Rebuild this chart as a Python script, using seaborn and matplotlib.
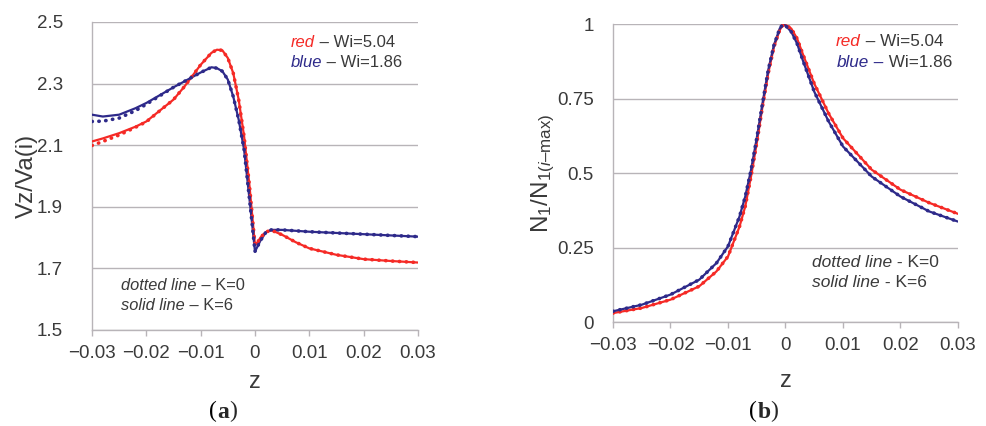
import matplotlib
matplotlib.use("Agg")
import matplotlib.pyplot as plt
import numpy as np
import pandas as pd
import seaborn as sns

# ---- panel (a): Vz/Va(i) vs z ----
z_a = [-0.03, -0.028, -0.025, -0.022, -0.02, -0.015, -0.013, -0.01, -0.008, -0.007,
       -0.006, -0.005, -0.004, -0.003, -0.002, -0.001, -0.0005, 0.0, 0.0005, 0.001,
       0.002, 0.003, 0.005, 0.0075, 0.01, 0.015, 0.02, 0.025, 0.03]
red_k6_a = [2.112, 2.122, 2.139, 2.160, 2.177, 2.248, 2.290, 2.361, 2.400, 2.410,
            2.408, 2.383, 2.334, 2.248, 2.128, 1.966, 1.870, 1.776, 1.785, 1.800,
            1.818, 1.824, 1.809, 1.785, 1.765, 1.744, 1.730, 1.724, 1.719]
red_k0_a = [2.099, 2.112, 2.133, 2.158, 2.176, 2.248, 2.290, 2.361, 2.400, 2.410,
            2.408, 2.383, 2.334, 2.248, 2.128, 1.966, 1.870, 1.776, 1.785, 1.800,
            1.818, 1.824, 1.809, 1.785, 1.765, 1.744, 1.730, 1.724, 1.719]
blue_k6_a = [2.199, 2.193, 2.199, 2.220, 2.237, 2.288, 2.307, 2.336, 2.353, 2.350,
             2.340, 2.313, 2.258, 2.183, 2.085, 1.923, 1.840, 1.755, 1.772, 1.790,
             1.817, 1.825, 1.825, 1.822, 1.819, 1.815, 1.811, 1.807, 1.803]
blue_k0_a = [2.177, 2.178, 2.188, 2.212, 2.233, 2.288, 2.307, 2.336, 2.353, 2.350,
             2.340, 2.313, 2.258, 2.183, 2.085, 1.923, 1.840, 1.755, 1.772, 1.790,
             1.817, 1.825, 1.825, 1.822, 1.819, 1.815, 1.811, 1.807, 1.803]

# ---- panel (b): N1/N1(i-max) vs z ----
z_b = [-0.03, -0.025, -0.02, -0.015, -0.012, -0.01, -0.008, -0.007, -0.006, -0.005,
       -0.004, -0.003, -0.002, -0.001, -0.0005, 0.0, 0.001, 0.002, 0.003, 0.005,
       0.0075, 0.01, 0.015, 0.02, 0.025, 0.03]
red_b = [0.030, 0.047, 0.075, 0.120, 0.170, 0.220, 0.320, 0.388, 0.488, 0.600,
         0.723, 0.835, 0.924, 0.980, 0.995, 0.997, 0.985, 0.952, 0.900, 0.800,
         0.700, 0.617, 0.511, 0.444, 0.400, 0.363]
blue_b = [0.036, 0.058, 0.092, 0.142, 0.198, 0.254, 0.354, 0.421, 0.510, 0.617,
          0.734, 0.846, 0.930, 0.985, 0.998, 0.995, 0.974, 0.935, 0.879, 0.773,
          0.673, 0.589, 0.488, 0.421, 0.371, 0.337]

xticks = [-0.03, -0.02, -0.01, 0, 0.01, 0.02, 0.03]
xtick_labels = ["\u22120.03", "\u22120.02", "\u22120.01", "0", "0.01", "0.02", "0.03"]
yticks_a = [1.5, 1.7, 1.9, 2.1, 2.3, 2.5]
yticks_b = [0, 0.25, 0.5, 0.75, 1]
ytick_labels_b = ["0", "0.25", "0.5", "0.75", "1"]

RED = "#f52a26"
BLUE = "#2e2a8a"
GRID = "#b8b4b8"
TXT = "#3a3a3a"

sns.set_theme(style="white")
plt.rcParams["font.family"] = ["Liberation Sans", "DejaVu Sans"]
plt.rcParams["mathtext.fontset"] = "custom"
plt.rcParams["mathtext.rm"] = "Liberation Sans"
plt.rcParams["mathtext.it"] = "Liberation Sans:italic"

fig = plt.figure(figsize=(9.86, 4.26), dpi=100)
ax_a = fig.add_axes([0.0933, 0.2254, 0.3306, 0.7230])
ax_b = fig.add_axes([0.6217, 0.2441, 0.3499, 0.6995])


def draw_curves(ax, z, series):
    for vals, color, dotted in series:
        df = pd.DataFrame({"z": z, "v": vals})
        if dotted:
            sns.lineplot(ax=ax, data=df, x="z", y="v", color=color, linewidth=2.6,
                         linestyle=(0, (0.1, 1.8)), dash_capstyle="round", zorder=4)
        else:
            sns.lineplot(ax=ax, data=df, x="z", y="v", color=color, linewidth=1.6, zorder=3)


def style_axes(ax, yticks, ylabels, ylim, pad_y, xlabelpad):
    ax.set_xlim(-0.03, 0.03)
    ax.set_ylim(*ylim)
    ax.set_xticks(xticks)
    ax.set_xticklabels(xtick_labels)
    ax.set_yticks(yticks)
    ax.set_yticklabels(ylabels)
    ax.yaxis.grid(True, color=GRID, linewidth=1.0)
    ax.set_axisbelow(True)
    for s in ["top", "right"]:
        ax.spines[s].set_visible(False)
    for s in ["left", "bottom"]:
        ax.spines[s].set_color(GRID)
        ax.spines[s].set_linewidth(1.0)
    ax.tick_params(axis="x", bottom=True, length=4, width=1.0, color=GRID,
                   labelsize=13.5, labelcolor=TXT, pad=7)
    ax.tick_params(axis="y", left=False, labelsize=13.5, labelcolor=TXT, pad=pad_y)
    ax.set_xlabel("z", fontsize=17, color=TXT, labelpad=xlabelpad)


def legend_text(ax, x, y, word, rest, word_color, rest_color, size, dash_color=None):
    t = ax.text(x, y, word, transform=ax.transAxes, fontsize=size, style="italic",
                color=word_color, va="center", ha="left")
    if dash_color is not None:
        t = ax.annotate(" \u2013", xy=(1, 0), xycoords=t, fontsize=size,
                        color=dash_color, va="bottom", ha="left")
    ax.annotate(rest, xy=(1, 0), xycoords=t, fontsize=size, color=rest_color,
                va="bottom", ha="left")


# panel (a)
draw_curves(ax_a, z_a, [(red_k6_a, RED, False), (blue_k6_a, BLUE, False),
                        (red_k0_a, RED, True), (blue_k0_a, BLUE, True)])
style_axes(ax_a, yticks_a, [f"{v:.1f}" for v in yticks_a], (1.5, 2.5), 15, 6)
ax_a.set_ylabel("Vz/Va(i)", fontsize=17.5, color=TXT, labelpad=-1)
legend_text(ax_a, 0.610, 0.932, "red", " \u2013 Wi=5.04", RED, TXT, 12)
legend_text(ax_a, 0.610, 0.870, "blue", " \u2013 Wi=1.86", BLUE, TXT, 12)
legend_text(ax_a, 0.089, 0.143, "dotted line", " \u2013 K=0", TXT, TXT, 11.8)
legend_text(ax_a, 0.089, 0.081, "solid line", " \u2013 K=6", TXT, TXT, 11.8)

# panel (b)
draw_curves(ax_b, z_b, [(red_b, RED, False), (blue_b, BLUE, False),
                        (red_b, RED, True), (blue_b, BLUE, True)])
style_axes(ax_b, yticks_b, ytick_labels_b, (0, 1), 8, 11)
ax_b.set_ylabel("N$_1$/N$_{1(\\mathit{i}\u2013\\mathrm{max})}$", fontsize=17.5,
                color=TXT, labelpad=0)
legend_text(ax_b, 0.646, 0.943, "red", " \u2013 Wi=5.04", RED, TXT, 12.3)
legend_text(ax_b, 0.649, 0.872, "blue", " Wi=1.86", BLUE, TXT, 12.3, dash_color=BLUE)
legend_text(ax_b, 0.577, 0.201, "dotted line", " - K=0", TXT, TXT, 12.5)
legend_text(ax_b, 0.577, 0.134, "solid line", " - K=6", TXT, TXT, 12.5)

# captions: "(a)" and "(b)" with bold letter
for xc, letter in [(0.212, "a"), (0.760, "b")]:
    p1 = fig.text(xc, 0.033, "(", ha="left", va="center", fontsize=17,
                  family="Liberation Serif", color="black")
    a2 = plt.annotate(letter, xy=(1, 0), xycoords=p1, ha="left", va="bottom",
                      fontsize=17, family="Liberation Serif", weight="bold")
    plt.annotate(")", xy=(1, 0), xycoords=a2, ha="left", va="bottom",
                 fontsize=17, family="Liberation Serif")

fig.savefig("out.png", dpi=100, facecolor="white")
